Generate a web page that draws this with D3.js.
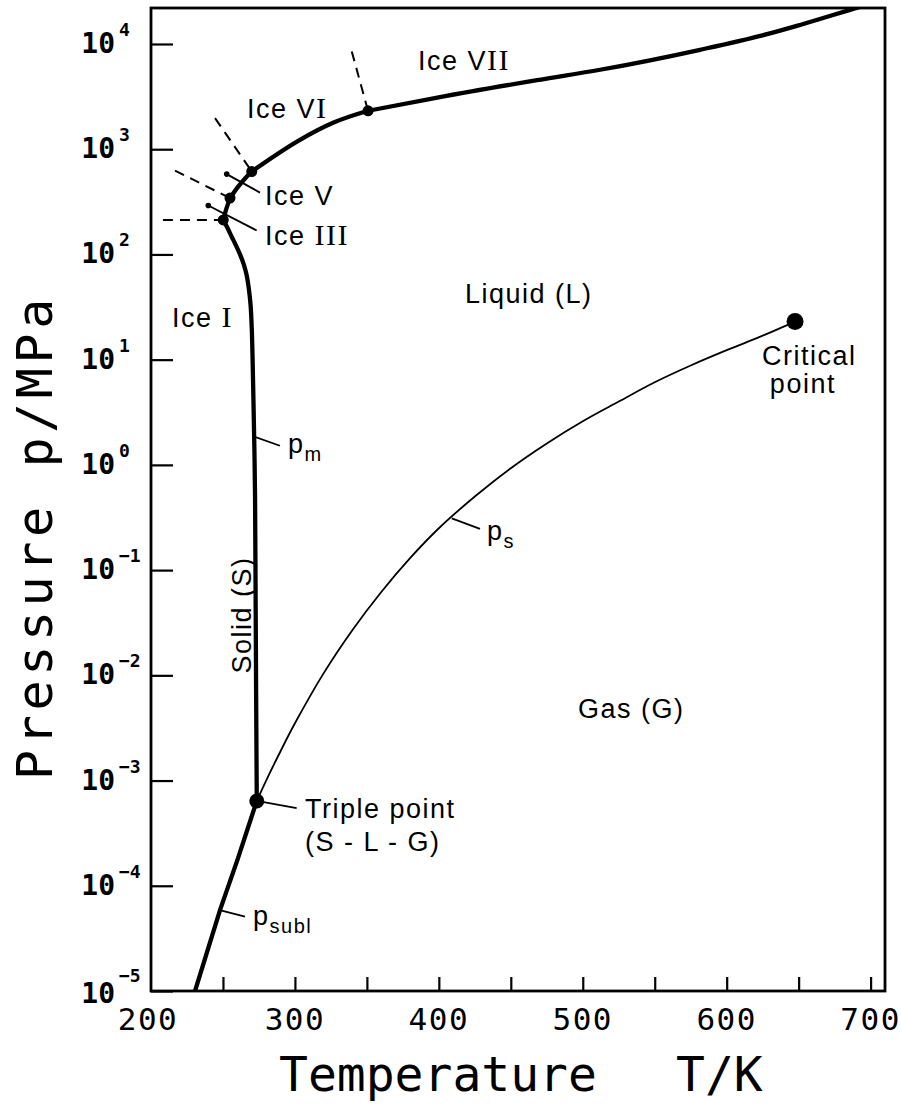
<!DOCTYPE html>
<html>
<head>
<meta charset="utf-8">
<script src="https://cdn.jsdelivr.net/npm/d3@7"></script>
<style>
  body { margin: 0; background: #fff; }
  svg { display: block; background: #fff; }
  text { fill: #000; }
  .lbl { font-family: "Liberation Sans", Arial, sans-serif; font-size: 27px; letter-spacing: 1.5px; }
  .rom { font-family: "Liberation Serif", serif; font-size: 30px; }
  .mono { font-family: "DejaVu Sans Mono", monospace; }
</style>
</head>
<body>
<svg id="chart" width="901" height="1118"></svg>
<script>
// Phase boundaries of water: [T in K, p in MPa].
const sublimation = [[273.5, 6.4e-4], [260, 1.75e-4], [248, 5.9e-5], [230.6, 1.0e-5]];

const vaporTemp = [273.5, 280, 290, 300, 320, 340, 360, 380, 400, 425, 450, 475, 500, 525, 550, 575, 600, 625, 647.5];
const vaporPress = [6.4e-4, 1.0e-3, 1.9e-3, 3.5e-3, 1.05e-2, 2.7e-2, 6.2e-2, 0.13, 0.25, 0.50, 0.93, 1.6, 2.6, 4.0, 6.1, 8.8, 12.3, 16.9, 23];

const meltIceI = [[273.5, 6.4e-4], [273.1, 5e-3], [272.7, 0.05], [272.3, 0.5], [271.8, 1.5], [271.2, 4], [270.6, 10],
    [270.0, 20], [269.2, 33], [268.0, 47], [266.5, 63], [264.5, 80], [262, 99], [259, 122], [256, 148], [253, 180], [250.2, 213]];
const meltIceIII = [[250.2, 213], [252.5, 275], [254.9, 343]];
const meltIceV = [[254.9, 343], [260.7, 443], [265.5, 530], [270, 614]];
const meltIceVI = [[270, 614], [303.5, 1228], [326.5, 1783], [350.8, 2317]];
const meltIceVII = [[350.8, 2317], [400.8, 3130], [470, 4570], [512, 5690], [581.5, 8810], [628, 12390], [651, 15170], [692.6, 22490], [705, 25180]];

// Solid-solid boundaries (dashed), from the outer end to the triple point.
const dashedBounds = [
    [[208.3, 213], [250.2, 213]],
    [[216.7, 627], [254.9, 343]],
    [[244.5, 1972], [270, 614]],
    [[339.5, 8490], [350.8, 2317]]
];

const icePoints = [[250.2, 213], [254.9, 343], [270, 614], [350.8, 2317]];
const triplePoint = [273.5, 6.4e-4];
const criticalPoint = [647.5, 23];

// Ticks.
const tempMajor = [200, 300, 400, 500, 600, 700];
const tempTicks = [250, 300, 350, 400, 450, 500, 550, 600, 650, 700];
const pressExp = [4, 3, 2, 1, 0, -1, -2, -3, -4, -5];

const svg = d3.select("#chart");
const margin = { left: 151, right: 885, top: 8, bottom: 991 };

const x = d3.scaleLinear().domain([200, 710]).range([margin.left, margin.right]);
const y = d3.scaleLog().domain([1e-5, Math.pow(10, 4.342)]).range([margin.bottom, margin.top]);

svg.append("defs").append("clipPath").attr("id", "plot")
    .append("rect")
    .attr("x", margin.left).attr("y", margin.top)
    .attr("width", margin.right - margin.left).attr("height", margin.bottom - margin.top);

// Axes: ticks point into the plot, labels are drawn by hand below.
svg.append("g")
    .attr("transform", "translate(0," + margin.bottom + ")")
    .call(d3.axisBottom(x).tickValues(tempTicks).tickSize(-14).tickSizeOuter(0).tickFormat(""))
    .call(g => g.select(".domain").remove())
    .selectAll("line").attr("stroke", "#000").attr("stroke-width", 2.2);

svg.append("g")
    .attr("transform", "translate(" + margin.left + ",0)")
    .call(d3.axisLeft(y).tickValues(pressExp.map(e => Math.pow(10, e))).tickSize(-22).tickSizeOuter(0).tickFormat(""))
    .call(g => g.select(".domain").remove())
    .selectAll("line").attr("stroke", "#000").attr("stroke-width", 2.2);

svg.append("rect")
    .attr("x", margin.left).attr("y", margin.top)
    .attr("width", margin.right - margin.left).attr("height", margin.bottom - margin.top)
    .attr("fill", "none").attr("stroke", "#000").attr("stroke-width", 2.8);

svg.append("g").selectAll("text")
    .data(tempMajor)
    .enter().append("text")
    .attr("class", "mono")
    .attr("x", d => x(d) + (d === 200 ? -3 : 0))
    .attr("y", 1030)
    .attr("text-anchor", "middle")
    .attr("font-size", 31)
    .attr("letter-spacing", 1.5)
    .text(d => d);

const yLabels = svg.append("g").selectAll("text")
    .data(pressExp)
    .enter().append("text")
    .attr("class", "mono")
    .attr("font-weight", "bold");
yLabels.append("tspan")
    .attr("x", 115).attr("y", d => y(Math.pow(10, d)) + (d === -5 ? 12 : 9))
    .attr("text-anchor", "end")
    .attr("font-size", 28)
    .text("10");
yLabels.append("tspan")
    .attr("x", 119).attr("y", d => y(Math.pow(10, d)) + (d === -5 ? -9 : -8))
    .attr("font-size", 18)
    .text(d => d < 0 ? "\u2212" + (-d) : d);

// Axis titles.
svg.append("text")
    .attr("class", "mono")
    .attr("x", 279).attr("y", 1091)
    .attr("font-size", 48)
    .text("Temperature");
svg.append("text")
    .attr("class", "mono")
    .attr("x", 676).attr("y", 1091)
    .attr("font-size", 48)
    .text("T/K");
svg.append("text")
    .attr("class", "mono")
    .attr("transform", "translate(52,537) rotate(-90)")
    .attr("text-anchor", "middle")
    .attr("font-size", 50)
    .attr("letter-spacing", 4.6)
    .text("Pressure p/MPa");

// Curves.
const line = d3.line().x(d => x(d[0])).y(d => y(d[1]));
const smooth = d3.line().x(d => x(d[0])).y(d => y(d[1])).curve(d3.curveCatmullRom);
const plot = svg.append("g").attr("clip-path", "url(#plot)");

const vapor = vaporTemp.map((t, i) => [t, vaporPress[i]]);
plot.append("path").datum(vapor)
    .attr("d", smooth).attr("fill", "none").attr("stroke", "#000").attr("stroke-width", 1.8);

plot.append("path").datum(sublimation)
    .attr("d", line).attr("fill", "none").attr("stroke", "#000").attr("stroke-width", 4.3);

[meltIceI, meltIceIII, meltIceV].forEach(seg => {
    plot.append("path").datum(seg)
        .attr("d", smooth).attr("fill", "none").attr("stroke", "#000")
        .attr("stroke-width", 4.3).attr("stroke-linejoin", "round");
});
[meltIceVI, meltIceVII].forEach(seg => {
    plot.append("path").datum(seg)
        .attr("d", d3.line().x(d => x(d[0])).y(d => y(d[1])).curve(d3.curveMonotoneX))
        .attr("fill", "none").attr("stroke", "#000")
        .attr("stroke-width", 4.3).attr("stroke-linejoin", "round");
});

plot.selectAll(".dash")
    .data(dashedBounds)
    .enter().append("path")
    .attr("class", "dash")
    .attr("d", line).attr("fill", "none").attr("stroke", "#000")
    .attr("stroke-width", 2).attr("stroke-dasharray", "10,7");

plot.selectAll(".icept")
    .data(icePoints)
    .enter().append("circle")
    .attr("class", "icept")
    .attr("cx", d => x(d[0])).attr("cy", d => y(d[1])).attr("r", 5.5);

plot.append("circle").attr("cx", x(triplePoint[0])).attr("cy", y(triplePoint[1])).attr("r", 7.5);
plot.append("circle").attr("cx", x(criticalPoint[0])).attr("cy", y(criticalPoint[1])).attr("r", 8.5);

// Leader lines: [T1, p1, T2, p2], with a small dot at the start when asked.
const leaders = [
    { from: [252.6, 580], to: [275.7, 387], dot: true },
    { from: [239.8, 292], to: [273.4, 169], dot: true },
    { from: [273.5, 6.4e-4], to: [301.2, 5.46e-4] },
    { from: [271.6, 1.86], to: [289.6, 1.52] },
    { from: [249.1, 5.8e-5], to: [265.3, 5.08e-5] },
    { from: [409, 0.31], to: [428.6, 0.247] }
];
leaders.forEach(l => {
    plot.append("line")
        .attr("x1", x(l.from[0])).attr("y1", y(l.from[1]))
        .attr("x2", x(l.to[0])).attr("y2", y(l.to[1]))
        .attr("stroke", "#000").attr("stroke-width", 1.8);
    if (l.dot) {
        plot.append("circle").attr("cx", x(l.from[0])).attr("cy", y(l.from[1])).attr("r", 2.8);
    }
});

// Region and point labels, anchored in data units.
function label(T, p, parts, size, spacing) {
    const t = svg.append("text").attr("class", "lbl")
        .attr("x", x(T)).attr("y", y(p))
        .attr("font-size", size || 27);
    if (spacing !== undefined) t.attr("letter-spacing", spacing);
    parts.forEach(s => {
        const sp = t.append("tspan").text(s[0]);
        if (s[1]) sp.attr("class", "rom");
    });
    return t;
}

label(385.5, 5690, [["Ice V"], ["II", true]], 28);
label(266.7, 1991, [["Ice V"], ["I", true]], 28);
label(279.2, 297, [["Ice V"]], 28);
label(279.2, 123, [["Ice "], ["III", true]], 28);
label(214.6, 20.5, [["Ice "], ["I", true]], 28);
label(418.2, 34.7, [["Liquid (L)"]], 28, 2);
label(496.7, 3.94e-3, [["Gas (G)"]], 28, 2);
label(624.5, 8.93, [["Critical"]], 28, 2.5);
label(630, 4.83, [["point"]], 28, 1.5);
label(307, 4.42e-4, [["Triple point"]], 25.5, 0);
label(307, 2.14e-4, [["(S - L - G)"]], 26, 0);

svg.append("text").attr("class", "lbl")
    .attr("transform", "translate(" + x(269.5) + "," + y(0.0375) + ") rotate(-90)")
    .attr("text-anchor", "middle")
    .attr("font-size", 26)
    .text("Solid (S)");

// Pressure symbols with subscripts.
function pSymbol(T, p, sub) {
    const t = svg.append("text").attr("class", "lbl")
        .attr("x", x(T)).attr("y", y(p)).attr("font-size", 28).attr("letter-spacing", 0);
    t.append("tspan").text("p");
    t.append("tspan").attr("dy", 8).attr("font-size", 20).text(sub);
}
pSymbol(295.2, 1.30, "m");
pSymbol(270.9, 4.24e-5, "subl");
pSymbol(433.5, 0.194, "s");
</script>
</body>
</html>
